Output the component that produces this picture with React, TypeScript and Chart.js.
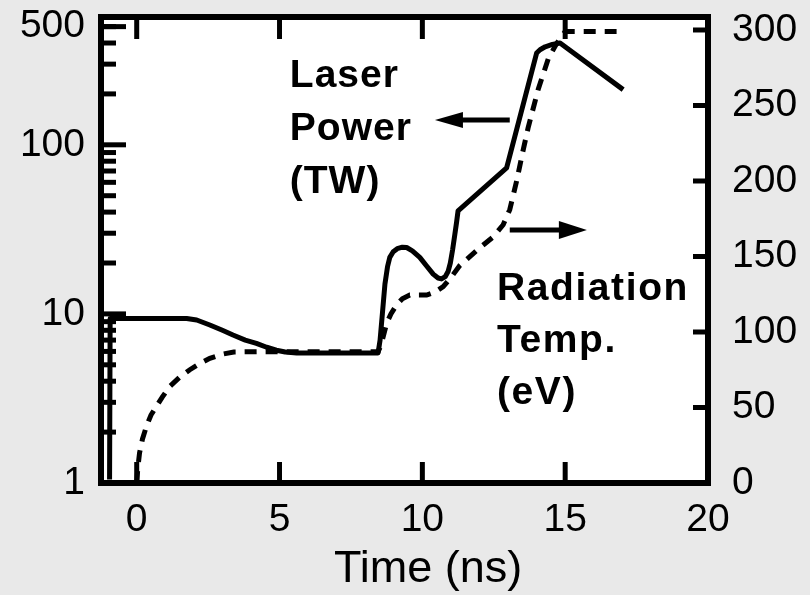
import React, { useEffect, useRef } from "react";
import { Chart, registerables } from "chart.js";

Chart.register(...registerables);

// ---- Data ----
const laserTime = [
  -0.95, -0.93, 1.75, 2.1, 2.56, 3.0, 3.37, 3.8, 4.19, 4.55, 4.89, 5.2, 5.6, 8.45,
  8.52, 8.6, 8.69, 8.78, 8.86, 8.98, 9.12, 9.3, 9.45, 9.65, 9.91, 10.15, 10.38,
  10.55, 10.67, 10.8, 10.9, 10.98, 11.06, 11.14, 11.2, 11.25, 12.95, 14.0, 14.12,
  14.3, 14.55, 14.82, 17.03,
];
const laserPower = [
  1.05, 9.4, 9.4, 9.2, 8.6, 8.0, 7.5, 7.0, 6.7, 6.35, 6.1, 5.95, 5.88, 5.88,
  7.0, 10, 15, 19, 21.6, 23.3, 24.3, 24.8, 24.7, 23.6, 21.6, 19.2, 17.2,
  16.3, 16.1, 16.6, 17.8, 20, 24, 29.7, 35, 40.7, 73, 349, 365,
  380, 392, 400, 212,
];
const tempTime = [
  0, 0.04, 0.1, 0.2, 0.34, 0.5, 0.69, 0.9, 1.16, 1.5, 1.86, 2.2, 2.56, 3.0, 3.4,
  4.5, 8.45, 8.55, 8.75, 8.9, 9.1, 9.3, 9.56, 10.15, 10.45, 10.73, 11.0, 11.31,
  11.9, 12.48, 12.83, 13.06, 13.3, 13.5, 13.7, 14.06, 14.41, 14.7, 15.0, 16.8,
];
const tempEV = [
  0, 10, 20, 29, 37.5, 45, 50.8, 57, 64, 70, 75, 79, 82.6, 85.3, 86.8,
  87, 87, 91, 105.8, 112, 118, 122, 124.5, 124.5, 126.5, 130, 136, 144,
  154, 163, 171, 181, 200, 218, 235, 261, 281, 291, 299, 299,
];
const xTickValues = [0, 5, 10, 15, 20];
const leftTickValues = [1, 10, 100, 500];
const leftMinorValues = [2, 3, 4, 5, 6, 7, 8, 9, 20, 30, 40, 50, 60, 70, 80, 90, 200, 300, 400, 500];
const rightTickValues = [0, 50, 100, 150, 200, 250, 300];
const xTitle = "Time (ns)";

const FONT = "'Liberation Sans', Arial, Helvetica, sans-serif";

const bgPlugin = {
  id: "bg",
  beforeDraw(chart: any) {
    const { ctx, chartArea, width, height } = chart;
    ctx.save();
    ctx.fillStyle = "#e9e9e9";
    ctx.fillRect(0, 0, width, height);
    ctx.fillStyle = "#ffffff";
    ctx.fillRect(chartArea.left, chartArea.top, chartArea.right - chartArea.left, chartArea.bottom - chartArea.top);
    ctx.restore();
  },
};

function seg(ctx: CanvasRenderingContext2D, x1: number, y1: number, x2: number, y2: number) {
  ctx.beginPath();
  ctx.moveTo(x1, y1);
  ctx.lineTo(x2, y2);
  ctx.stroke();
}

const framePlugin = {
  id: "frame",
  afterDatasetsDraw(chart: any) {
    const { ctx, chartArea, scales } = chart;
    const { left, right, top, bottom } = chartArea;
    ctx.save();
    ctx.strokeStyle = "#000";
    ctx.lineCap = "butt";
    ctx.lineWidth = 5;
    xTickValues.forEach((v) => {
      const x = scales.x.getPixelForValue(v);
      seg(ctx, x, bottom, x, bottom - 21);
      seg(ctx, x, top, x, top + 22);
    });
    leftTickValues.forEach((v) => {
      const y = scales.y.getPixelForValue(v);
      seg(ctx, left, y, left + 25, y);
    });
    leftMinorValues.forEach((v) => {
      const y = scales.y.getPixelForValue(v);
      seg(ctx, left, y, left + 15, y);
    });
    rightTickValues.forEach((v) => {
      const y = scales.y1.getPixelForValue(v);
      seg(ctx, right, y, right - 15, y);
    });
    ctx.lineWidth = 6;
    ctx.strokeRect(left, top, right - left, bottom - top);
    ctx.restore();
  },
};

const laserLabelLines = ["Laser", "Power", "(TW)"];
const radLabelLines = ["Radiation", "Temp.", "(eV)"];

function arrow(ctx: CanvasRenderingContext2D, x1: number, x2: number, y: number, headLen: number, headHalf: number) {
  const dir = Math.sign(x2 - x1);
  ctx.lineWidth = 5;
  seg(ctx, x1, y, x2 - dir * headLen * 0.8, y);
  ctx.beginPath();
  ctx.moveTo(x2, y);
  ctx.lineTo(x2 - dir * headLen, y - headHalf);
  ctx.lineTo(x2 - dir * headLen, y + headHalf);
  ctx.closePath();
  ctx.fill();
}

const annotationPlugin = {
  id: "annot",
  afterDraw(chart: any) {
    const { ctx, scales } = chart;
    const X = (t: number) => scales.x.getPixelForValue(t);
    const Y = (e: number) => scales.y1.getPixelForValue(e);
    ctx.save();
    ctx.fillStyle = "#000";
    ctx.strokeStyle = "#000";
    ctx.font = `bold 39px ${FONT}`;
    (ctx as any).letterSpacing = "1px";
    ctx.textAlign = "left";
    ctx.textBaseline = "alphabetic";
    const lx = X(5.36);
    const ly = Y(262.3);
    laserLabelLines.forEach((s, i) => ctx.fillText(s, lx, ly + i * 53));
    (ctx as any).letterSpacing = "1.6px";
    const rx = X(12.61);
    const ry = Y(121.2);
    radLabelLines.forEach((s, i) => ctx.fillText(s, rx, ry + i * 52));
    (ctx as any).letterSpacing = "0px";
    arrow(ctx, X(13.06), X(10.44), Y(240.4), 28, 8);
    arrow(ctx, X(13.06), X(15.76), Y(167.5), 28, 9);
    // x-axis title
    ctx.font = `45px ${FONT}`;
    ctx.textAlign = "center";
    ctx.fillText(xTitle, X(10.2), 582);
    ctx.restore();
  },
};

export default function App() {
  const ref = useRef<HTMLCanvasElement | null>(null);
  useEffect(() => {
    document.body.style.margin = "0";
    const canvas = ref.current!;
    const chart = new Chart(canvas, {
      type: "line",
      data: {
        datasets: [
          {
            label: "Laser Power (TW)",
            data: laserTime.map((t, i) => ({ x: t, y: laserPower[i] })),
            yAxisID: "y",
            borderColor: "#000",
            borderWidth: 5,
            pointRadius: 0,
            tension: 0,
            fill: false,
            borderJoinStyle: "round",
          },
          {
            label: "Radiation Temp. (eV)",
            data: tempTime.map((t, i) => ({ x: t, y: tempEV[i] })),
            yAxisID: "y1",
            borderColor: "#000",
            borderWidth: 5,
            borderDash: [12, 9],
            pointRadius: 0,
            tension: 0,
            fill: false,
          },
        ],
      },
      options: {
        responsive: false,
        animation: false,
        devicePixelRatio: 1,
        layout: { padding: { top: 17, left: 0, right: 0, bottom: 0 } },
        plugins: { legend: { display: false }, tooltip: { enabled: false } },
        scales: {
          x: {
            type: "linear",
            position: "bottom",
            min: -1.25,
            max: 20,
            grid: { display: false, drawTicks: false },
            border: { display: false },
            ticks: {
              padding: 14,
              color: "#000",
              font: { family: FONT, size: 39 },
              maxRotation: 0,
              minRotation: 0,
              autoSkip: false,
              callback: (v: any) => String(v),
            },
            afterBuildTicks: (s: any) => {
              s.ticks = xTickValues.map((v) => ({ value: v }));
            },
            afterFit: (s: any) => {
              s.height = 112;
              s.paddingLeft = 0;
              s.paddingRight = 0;
            },
          },
          y: {
            type: "logarithmic",
            position: "left",
            min: 1,
            max: 570,
            grid: { display: false, drawTicks: false },
            border: { display: false },
            ticks: {
              padding: 16,
              color: "#000",
              font: { family: FONT, size: 39 },
              autoSkip: false,
              callback: (v: any) => String(v),
            },
            afterBuildTicks: (s: any) => {
              s.ticks = leftTickValues.map((v) => ({ value: v }));
            },
            afterFit: (s: any) => {
              s.width = 101;
              s.paddingTop = 0;
              s.paddingBottom = 0;
            },
          },
          y1: {
            type: "linear",
            position: "right",
            min: 0,
            max: 308.6,
            grid: { display: false, drawTicks: false },
            border: { display: false },
            ticks: {
              padding: 24,
              color: "#000",
              font: { family: FONT, size: 39 },
              autoSkip: false,
              callback: (v: any) => String(v),
            },
            afterBuildTicks: (s: any) => {
              s.ticks = rightTickValues.map((v) => ({ value: v }));
            },
            afterFit: (s: any) => {
              s.width = 102;
              s.paddingTop = 0;
              s.paddingBottom = 0;
            },
          },
        },
      },
      plugins: [bgPlugin, framePlugin, annotationPlugin],
    } as any);
    return () => chart.destroy();
  }, []);
  return (
    <div style={{ position: "absolute", left: 0, top: 0, width: 810, height: 595 }}>
      <canvas ref={ref} width={810} height={595} style={{ display: "block" }} />
    </div>
  );
}
